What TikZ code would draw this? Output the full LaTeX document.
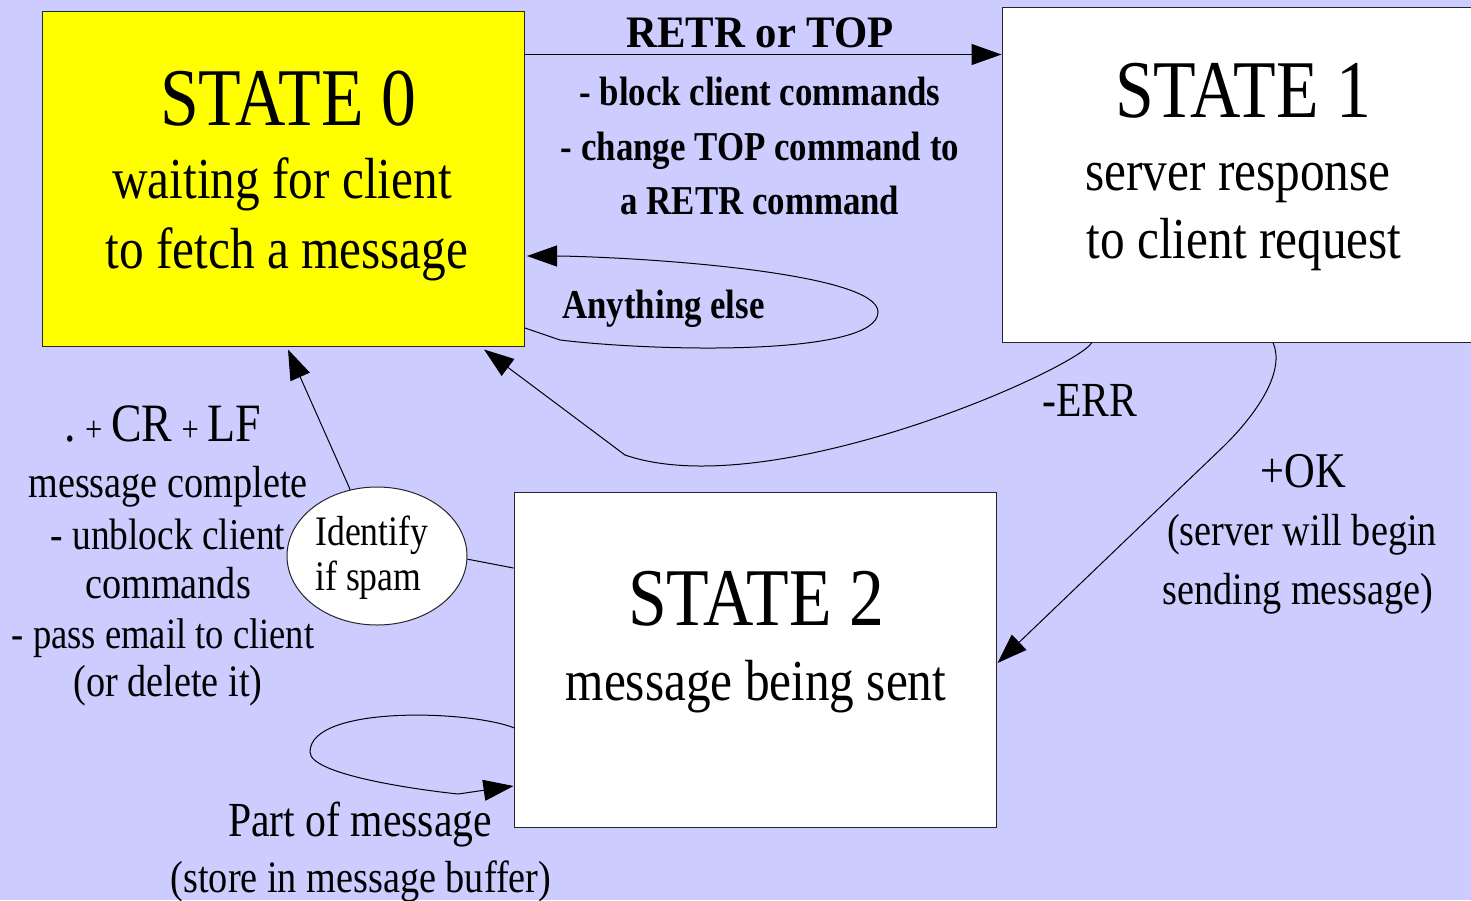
\documentclass[tikz,border=0pt]{standalone}
\usepackage{fontspec}
\setmainfont{Liberation Serif}[FakeStretch=0.85]
\newfontfamily\wideb{Liberation Serif}[FakeStretch=0.95]
\usetikzlibrary{arrows.meta,calc,shapes.geometric}
\definecolor{bgc}{HTML}{CCCCFF}
\definecolor{yel}{HTML}{FFFF00}
\begin{document}
\begin{tikzpicture}[x=0.5pt,y=-0.5pt,
  statebox/.style={draw=black!85,line width=0.5pt,minimum width=241pt,minimum height=167.5pt,inner sep=0,anchor=center},
  lbl/.style={inner sep=0,anchor=base},
  big/.style={font=\fontsize{41}{48}\selectfont},
  sub/.style={font=\fontsize{29}{35}\selectfont},
  small/.style={font=\fontsize{22.5}{27}\selectfont},
  bsmall/.style={font=\fontsize{20.5}{25}\selectfont\bfseries},
  arr/.style={line width=0.5pt,-{Triangle[length=15pt,width=10.5pt]}},
  wire/.style={line width=0.5pt}]
\useasboundingbox (0,0) rectangle (1471,900);
\clip (0,0) rectangle (1471,900);
\fill[bgc] (0,0) rectangle (1471,900);

% state boxes
\node[statebox,fill=yel] (s0) at (283.5,178.5) {};
\node[statebox,fill=white] (s1) at (1243,174.5) {};
\node[statebox,fill=white] (s2) at (755,660) {};
\node[ellipse,draw=black!85,fill=white,line width=0.5pt,minimum width=90pt,minimum height=69pt,inner sep=0] (el) at (377,556) {};

% state texts
\node[lbl,big] (t0) at (288,125) {STATE 0};
\node[lbl,sub] (t0a) at (282,198) {waiting for client};
\node[lbl,sub] (t0b) at (287,268) {to fetch a message};
\node[lbl,big] (t1) at (1243,117) {STATE 1};
\node[lbl,sub] (t1a) at (1238,190) {server response};
\node[lbl,sub] (t1b) at (1244,258) {to client request};
\node[lbl,big] (t2) at (756,625) {STATE 2};
\node[lbl,sub] (t2a) at (756,700) {message being sent};

% ellipse text
\node[lbl,anchor=base west,font=\fontsize{21}{25}\selectfont] (e1) at (315,545) {Identify};
\node[lbl,anchor=base west,font=\fontsize{21}{25}\selectfont] (e2) at (315,590) {if spam};

% top transition labels
\node[lbl,font=\fontsize{22.5}{27}\wideb\bfseries] (r0) at (760,47) {RETR or TOP};
\node[lbl,bsmall] (r1) at (760,105) {- block client commands};
\node[lbl,bsmall] (r2) at (760,160) {- change TOP command to};
\node[lbl,bsmall] (r3) at (760,214) {a RETR command};
\node[lbl,bsmall,anchor=base west] (ae) at (562,318) {Anything else};

% right labels
\node[lbl,font=\fontsize{24.5}{29}\selectfont] (err) at (1090,416) {-ERR};
\node[lbl,font=\fontsize{25}{30}\selectfont] (ok) at (1303,487) {+OK};
\node[lbl,small] (ok1) at (1302,545) {(server will begin};
\node[lbl,small] (ok2) at (1298,604) {sending message)};

% left labels
\node[lbl,font=\fontsize{27}{32}\selectfont] (l0) at (163,441) {.\,{\fontsize{18}{20}\selectfont+}\,CR\,{\fontsize{18}{20}\selectfont+}\,LF};
\node[lbl,small] (l1) at (168,497) {message complete};
\node[lbl,font=\fontsize{22}{27}\selectfont] (l2) at (168,549) {- unblock client};
\node[lbl,small] (l3) at (168,598) {commands};
\node[lbl,font=\fontsize{21.5}{26}\selectfont] (l4) at (163,648) {- pass email to client};
\node[lbl,small] (l5) at (168,696) {(or delete it)};

% bottom labels
\node[lbl,font=\fontsize{24.5}{29}\selectfont] (p1) at (360,836) {Part of message};
\node[lbl,small] (p2) at (361,892) {(store in message buffer)};

% connectors
\draw[arr] ($(s0.north east)+(0,44)$) -- ($(s1.north west)+(0,48)$);
\draw[arr] ($(s0.east)+(0,149.5)$) -- (560,340) .. controls (660,352) and (878,356) .. (878,312)
   .. controls (878,274) and (660,258) .. (560,256) -- ($(s0.east)+(2,77.5)$);
\draw[arr] ($(s1.south)+(-151,0)$) .. controls (1075,370) and (770,505) .. (625,455) -- ($(s0.south east)+(-41,3)$);
\draw[arr] ($(s1.south)+(30,0)$) .. controls (1285,370) and (1260,410) .. (1225,445) -- ($(s2.east)+(1,3)$);
\draw[arr] (el.112) -- ($(s0.south)+(4.5,3)$);
\draw[wire] ($(s2.west)+(0,-92)$) -- (el.-2);
\draw[arr] ($(s2.west)+(1,68)$) .. controls (470,710) and (310,705) .. (310,752)
   .. controls (310,775) and (420,790) .. (458,794) -- ($(s2.west)+(0,126)$);
\end{tikzpicture}
\end{document}
